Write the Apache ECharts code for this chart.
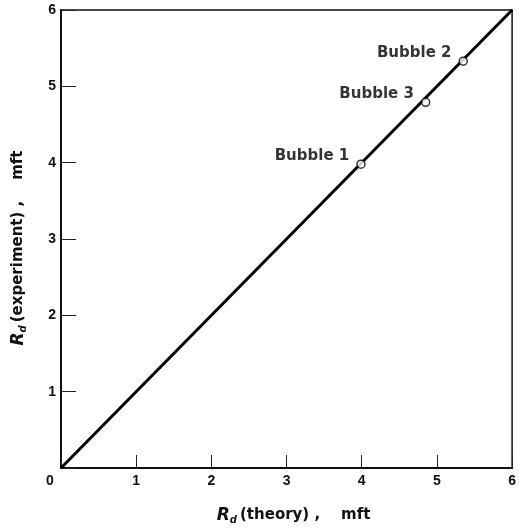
<!DOCTYPE html>
<html><head><meta charset="utf-8">
<script src="https://cdn.jsdelivr.net/npm/echarts@6/dist/echarts.min.js"></script>
<style>html,body{margin:0;padding:0;background:#fff}#c{width:519px;height:530px}</style>
</head><body><div id="c"></div>
<script>
const lineX = [0, 6];
const lineY = [0, 6];
const bubbleNames = ['Bubble 1', 'Bubble 3', 'Bubble 2'];
const theory = [3.99, 4.85, 5.35];
const experiment = [3.98, 4.79, 5.33];
const ticks = [0, 1, 2, 3, 4, 5, 6];

const font = 'Liberation Sans';
const tfont = 'DejaVu Sans';
const titleRich = {
  r: { fontFamily: tfont, fontSize: 17, fontStyle: 'italic', fontWeight: 'bold', color: '#111' },
  s: { fontFamily: tfont, fontSize: 10, fontStyle: 'italic', fontWeight: 'bold', color: '#111', padding: [9, 3, 0, 0] }
};
const chart = echarts.init(document.getElementById('c'));
chart.setOption({
  backgroundColor: '#fff',
  animation: false,
  grid: { left: 61, top: 10, right: 4, bottom: 61, show: true, borderColor: '#111', borderWidth: 1.5, backgroundColor: 'transparent' },
  xAxis: {
    type: 'value', min: ticks[0], max: ticks[ticks.length-1], interval: 1,
    axisLine: { show: true, lineStyle: { color: '#111', width: 2 } },
    axisTick: { show: true, inside: true, length: 13, lineStyle: { color: '#222', width: 1 } },
    splitLine: { show: false },
    axisLabel: { color: '#111', fontFamily: font, fontSize: 14, fontWeight: 'bold', margin: 6,
      formatter: v => v === 0 ? '{z|0}' : String(v),
      rich: { z: { color: '#111', fontFamily: font, fontSize: 14, fontWeight: 'bold', padding: [0, 22, 0, 0] } } },
    name: '{r|R}{s|d}(theory) ,    mft',
    nameLocation: 'middle', nameGap: 38,
    nameTextStyle: { color: '#111', fontFamily: tfont, fontSize: 15, fontWeight: 'bold', rich: titleRich, padding: [0, 0, 0, 14] }
  },
  yAxis: {
    type: 'value', min: ticks[0], max: ticks[ticks.length-1], interval: 1,
    axisLine: { show: true, lineStyle: { color: '#111', width: 2 } },
    axisTick: { show: true, inside: true, length: 15, lineStyle: { color: '#222', width: 1 } },
    splitLine: { show: false },
    axisLabel: { color: '#111', fontFamily: font, fontSize: 14, fontWeight: 'bold', margin: 5,
      formatter: v => v === 0 ? '' : String(v) },
    name: '{r|R}{s|d}(experiment) ,    mft',
    nameLocation: 'middle', nameGap: 33, nameRotate: 90,
    nameTextStyle: { color: '#111', fontFamily: tfont, fontSize: 15, fontWeight: 'bold', rich: titleRich, padding: [0, 18, 0, 0] }
  },
  series: [
    { type: 'line', data: lineX.map((x, i) => [x, lineY[i]]), symbol: 'none',
      lineStyle: { color: '#000', width: 3 }, z: 2 },
    { type: 'scatter', data: theory.map((x, i) => ({ value: [x, experiment[i]], name: bubbleNames[i] })),
      symbol: 'circle', symbolSize: 8,
      itemStyle: { color: '#fff', borderColor: '#000', borderWidth: 1.5 },
      label: { show: true, position: 'left', distance: 5, offset: [-2, -8], formatter: p => p.name,
        color: '#000', fontFamily: tfont, fontSize: 15, fontWeight: 'bold' },
      z: 3 }
  ]
});
</script></body></html>
